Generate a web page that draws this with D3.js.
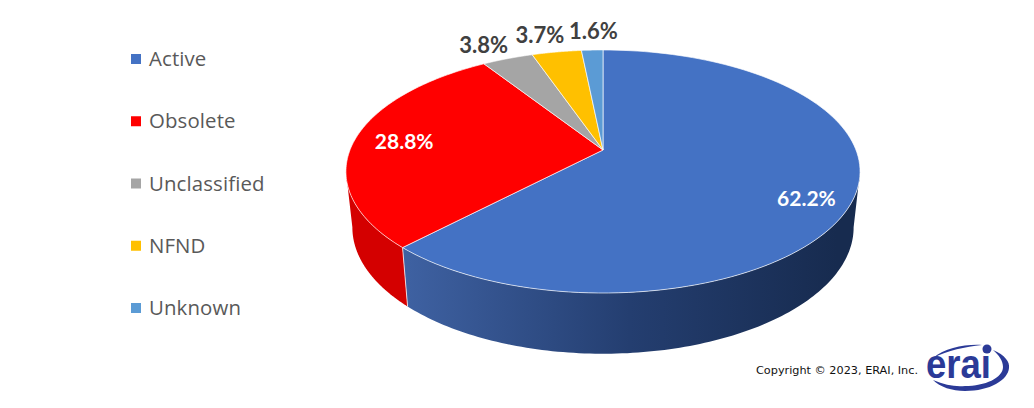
<!DOCTYPE html>
<html><head><meta charset="utf-8">
<script src="https://cdn.jsdelivr.net/npm/d3@7"></script>
<style>html,body{margin:0;background:#fff}svg{display:block}</style></head>
<body><svg id="c" width="1034" height="408"></svg>
<script>
const categories = ["Active","Obsolete","Unclassified","NFND","Unknown"];
const values = [62.2,28.8,3.8,3.7,1.6];
const labels = ["62.2%","28.8%","3.8%","3.7%","1.6%"];
const colors = ["#4472C4","#FF0000","#A5A5A5","#FFC000","#5B9BD5"];
const labelColors = ["#fff","#fff","#404040","#404040","#404040"];
const labelRadius = [0.85,0.8,1.2,1.2,1.2];
const labelNudge = [[-8,8],[0,-1],[-8,1],[-9,-1],[3,-3]];
const labelSizes = [21,21,22,22,22];

const svg = d3.select("#c");
const defs = svg.append("defs");
const CX=603, CY=150, K=253, Q=117.7, P=0.177;
const BX=0.975, BY=205, BQ=1.04;
function rim(a,r=1){const u=r*Math.sin(a),v=-r*Math.cos(a),d=1-P*v;return [CX+K*u/d,CY+Q*v/d];}
function bot(a){const [x,y]=rim(a);return [CX+(x-CX)*BX,BY+(y-CY)*BQ];}
const line=d3.line();
const samples=(a0,a1,f)=>d3.range(0,121).map(i=>f(a0+(a1-a0)*i/120));

const arcs=d3.pie().sort(null).startAngle(0).endAngle(2*Math.PI)(values);

const g=defs.append("linearGradient").attr("id","wall").attr("gradientUnits","userSpaceOnUse")
  .attr("x1",400).attr("x2",860).attr("y1",0).attr("y2",0);
g.append("stop").attr("offset",0).attr("stop-color","#3F62A3");
g.append("stop").attr("offset",0.5).attr("stop-color","#243E70");
g.append("stop").attr("offset",0.95).attr("stop-color","#172B4F");
g.append("stop").attr("offset",1).attr("stop-color","#172B4F");

// side walls: the silhouette meets the rim where the projected circle is widest
const wallStart=Math.acos(-P), wallEnd=2*Math.PI-Math.acos(-P);
const walls=[{a0:wallStart,a1:arcs[0].endAngle,fill:"url(#wall)"},{a0:arcs[1].startAngle,a1:wallEnd,fill:"#D40000"}];
svg.selectAll(".wall").data(walls).join("path").attr("class","wall")
  .attr("fill",d=>d.fill)
  .attr("d",d=>line(samples(d.a0,d.a1,rim).concat(samples(d.a1,d.a0,bot)))+"Z");
// seam between walls
svg.append("path").attr("stroke","#fff").attr("stroke-opacity",.75).attr("stroke-width",1).attr("fill","none")
  .attr("d",line([rim(arcs[0].endAngle),bot(arcs[0].endAngle)]));

// top slices
svg.selectAll(".slice").data(arcs).join("path").attr("class","slice")
  .attr("fill",(d,i)=>colors[i]).attr("stroke","#fff").attr("stroke-opacity",.65).attr("stroke-width",1).attr("stroke-linejoin","round")
  .attr("d",d=>line([[CX,CY]].concat(samples(d.startAngle,d.endAngle,rim)))+"Z");

// data labels
svg.selectAll(".lbl").data(arcs).join("text").attr("class","lbl")
  .attr("font-family","Lato, sans-serif").attr("font-weight",700).attr("font-size",(d,i)=>labelSizes[i])
  .attr("text-anchor","middle").attr("dominant-baseline","central")
  .attr("fill",(d,i)=>labelColors[i])
  .attr("x",(d,i)=>rim((d.startAngle+d.endAngle)/2,labelRadius[i])[0]+labelNudge[i][0])
  .attr("y",(d,i)=>rim((d.startAngle+d.endAngle)/2,labelRadius[i])[1]+labelNudge[i][1])
  .text((d,i)=>labels[i]);

// legend
const ly=d3.scalePoint().domain(categories).range([59,308]);
const leg=svg.selectAll(".leg").data(categories).join("g").attr("class","leg").attr("transform",d=>`translate(0,${ly(d)})`);
leg.append("rect").attr("x",131).attr("y",-5).attr("width",10).attr("height",10).attr("fill",(d,i)=>colors[i]);
leg.append("text").attr("x",149).attr("y",-1).attr("dominant-baseline","central")
  .attr("font-family","'Open Sans', sans-serif").attr("font-size",20.4).attr("letter-spacing",.12).attr("fill","#595959").text(d=>d);

// copyright + logo
svg.append("text").attr("x",756).attr("y",374).attr("font-family","'DejaVu Sans', sans-serif").attr("font-size",11)
  .attr("textLength",162).attr("lengthAdjust","spacingAndGlyphs").attr("fill","#111").text("Copyright © 2023, ERAI, Inc.");
const logo="#2B3A97";
svg.append("path").attr("fill",logo)
  .attr("d","M933 358C945 348 965 344 982 345C965 347 948 350 933 358Z M993 350C1005 355 1010 362 1009 368C1008 380 990 391 965 391C952 391 940 387 933 380C945 385 955 387 965 386C985 386 1003 378 1003 367C1003 361 999 355 993 350Z");
svg.append("circle").attr("cx",987).attr("cy",349).attr("r",4.5).attr("fill",logo);
svg.append("text").attr("x",926).attr("y",378).attr("font-family","'Liberation Sans', sans-serif").attr("font-weight",700).attr("font-size",40)
  .attr("textLength",65).attr("lengthAdjust","spacingAndGlyphs").attr("fill",logo).text("erai");
</script></body></html>
